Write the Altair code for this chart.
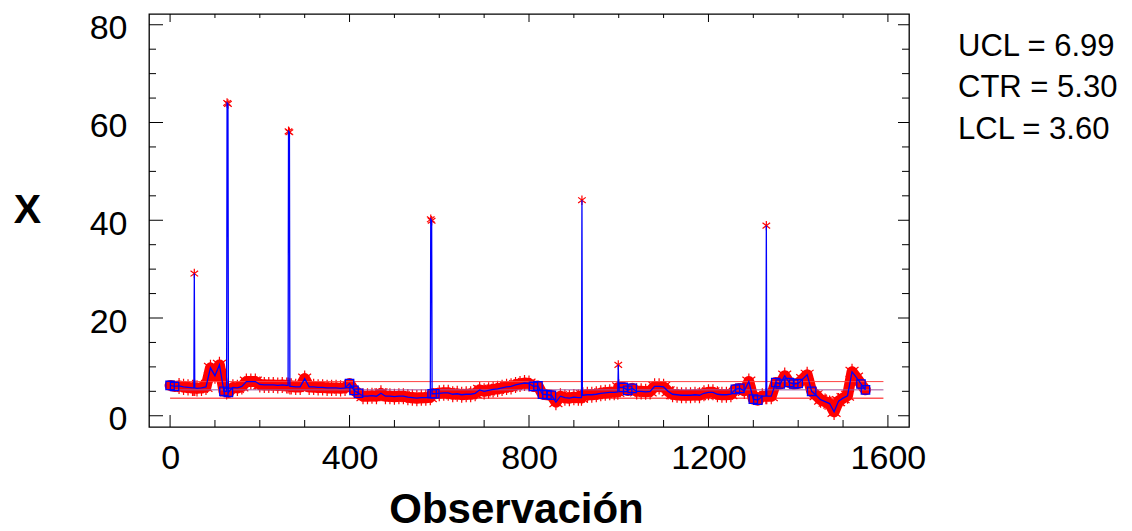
import altair as alt
import pandas as pd

# ---------------- data ----------------
obs_step = 10
base_values = [
    6.2, 6.0, 6.1, 5.9, 5.8, 5.7, 5.6, 5.7, 5.9, 9.8,
    8.2, 10.4, 5.0, 4.8, 5.8, 5.7, 6.0, 7.0, 7.0, 7.0,
    6.4, 6.3, 6.3, 6.3, 6.2, 6.3, 6.2, 6.0, 5.9, 5.9,
    7.6, 5.9, 5.9, 5.8, 5.8, 5.7, 5.7, 5.7, 5.6, 5.7,
    6.6, 5.2, 4.6, 4.0, 4.0, 4.1, 4.0, 4.6, 4.0, 4.0,
    3.9, 4.0, 4.0, 3.8, 3.7, 3.6, 3.7, 3.7, 3.8, 4.5,
    4.6, 4.7, 4.7, 4.4, 4.5, 4.3, 4.4, 4.4, 4.6, 5.3,
    5.0, 5.2, 5.4, 5.5, 5.7, 5.9, 6.0, 6.3, 6.5, 6.7,
    6.6, 6.0, 6.1, 4.4, 4.3, 4.2, 2.8, 4.0, 3.7, 3.6,
    3.8, 3.7, 4.2, 4.3, 4.3, 4.4, 4.6, 4.7, 4.8, 4.8,
    5.8, 5.8, 5.2, 5.6, 5.0, 5.0, 4.9, 5.0, 6.0, 6.0,
    5.9, 5.0, 4.4, 4.3, 4.2, 4.2, 4.2, 4.3, 4.2, 4.6,
    4.8, 4.8, 4.4, 4.3, 4.3, 4.4, 5.4, 5.6, 5.1, 7.0,
    3.4, 3.2, 4.0, 4.0, 4.0, 6.8, 6.5, 8.2, 6.8, 6.5,
    6.6, 7.5, 8.4, 5.0, 4.2, 3.3, 2.9, 2.5, 0.8, 3.0,
    3.6, 4.1, 9.0, 7.8, 6.5, 5.3,
]
extra_obs = [53, 54, 55, 126, 127, 129, 263, 264, 266, 267,
             581, 583, 584, 917, 918, 919, 998, 999, 1328, 1329]
extra_vals = [5.7, 29.1, 5.7, 5.0, 64.0, 63.8, 6.2, 58.2, 58.0, 6.0,
              40.2, 39.9, 4.5, 3.7, 44.1, 4.2, 4.9, 10.4, 4.0, 38.9]
spike_obs = [54, 127, 129, 264, 266, 581, 583, 918, 999, 1329]
square_obs = [0, 10, 120, 130, 400, 410, 420, 584, 590, 810, 820, 830, 840,
              850, 1010, 1020, 1030, 1260, 1270, 1300, 1310, 1350, 1360,
              1380, 1390, 1400, 1430, 1540, 1550]

limit_names = ["UCL", "CTR", "LCL"]
limit_values = [6.99, 5.30, 3.60]
limit_colors = ["#ff4040", "#a0509a", "#ff0000"]
limit_start = 0
limit_end = 1590

x_major = [0, 400, 800, 1200, 1600]
x_minor = [100, 200, 300, 500, 600, 700, 900, 1000, 1100, 1300, 1400, 1500]
y_major = [0, 20, 40, 60, 80]
y_minor = [5, 10, 15, 25, 30, 35, 45, 50, 55, 65, 70, 75]

# ---------------- tables ----------------
obs = list(range(0, obs_step * len(base_values), obs_step)) + extra_obs
vals = base_values + extra_vals
df = pd.DataFrame({"obs": obs, "x": vals}).sort_values("obs").reset_index(drop=True)
df["kind"] = ["square" if o in square_obs else "star" for o in df["obs"]]
df["inband"] = [o not in spike_obs for o in df["obs"]]

lim_df = pd.DataFrame({"name": limit_names, "value": limit_values,
                       "start": limit_start, "end": limit_end})

W, H = 760, 413
FONT = "Liberation Sans"
xs = alt.Scale(domain=[-47, 1647], nice=False, zero=False)
ys = alt.Scale(domain=[-2.3, 82.2], nice=False, zero=False)

x_axis = alt.Axis(
    values=x_major, format="d", title="Observación", ticks=False, domain=False,
    grid=False, labelFontSize=34, labelFont=FONT, labelColor="black",
    labelPadding=14, labelFlush=False, labelOverlap=False,
    titleFontSize=42, titleFont=FONT, titleFontWeight="bold", titleColor="black",
    titleX=367, titleY=95, titleBaseline="alphabetic", titleAlign="center")
y_axis = alt.Axis(
    values=y_major, format="d", title="X", ticks=False, domain=False, grid=False,
    labelFontSize=34, labelFont=FONT, labelColor="black", labelPadding=22,
    labelOffset=4, labelFlush=False, labelOverlap=False,
    titleFontSize=41, titleFont=FONT, titleFontWeight="bold", titleColor="black",
    titleAngle=0, titleX=-122, titleY=196, titleAlign="center",
    titleBaseline="middle")


def X(field):
    return alt.X(field, scale=xs, axis=x_axis)


def Y(field):
    return alt.Y(field, scale=ys, axis=y_axis)


star_path = "M0,-1L0,1M-0.8,-0.6L0.8,0.6M-0.8,0.6L0.8,-0.6"

base = alt.Chart(df)
# dense cloud of asterisks: drawn as a broad red stroke under the individual marks
band = base.transform_filter(alt.datum.inband).mark_line(
    color="#ff0000", strokeWidth=11, strokeJoin="round", strokeCap="round").encode(
    x=X("obs:Q"), y=Y("x:Q"), order="obs:Q")
stars = base.transform_filter(alt.datum.kind == "star").mark_point(
    shape=star_path, filled=False, color="#ff0000", strokeWidth=1.2,
    opacity=1).encode(
    x=X("obs:Q"), y=Y("x:Q"),
    size=alt.condition(alt.datum.inband, alt.value(260), alt.value(90)))
line = base.mark_line(color="#0000ff", strokeWidth=1.3).encode(
    x=X("obs:Q"), y=Y("x:Q"), order="obs:Q")
squares = base.transform_filter(alt.datum.kind == "square").mark_point(
    shape="square", size=70, filled=False, color="#0000ff", strokeWidth=1.3,
    opacity=1).encode(x=X("obs:Q"), y=Y("x:Q"))

limits = alt.Chart(lim_df).mark_rule(strokeWidth=1).encode(
    x=X("start:Q"), x2="end:Q", y=Y("value:Q"),
    color=alt.Color("name:N", scale=alt.Scale(domain=limit_names, range=limit_colors),
                    legend=None))


def xticks(values, length, side):
    d = pd.DataFrame({"v": values})
    if side == "bottom":
        yv, y2v = H, H - length
    else:
        yv, y2v = 0, length
    return alt.Chart(d).mark_rule(color="black", strokeWidth=1).encode(
        x=X("v:Q"), y=alt.value(yv), y2=alt.value(y2v))


def yticks(values, length, side):
    d = pd.DataFrame({"v": values})
    if side == "left":
        xv, x2v = 0, length
    else:
        xv, x2v = W, W - length
    return alt.Chart(d).mark_rule(color="black", strokeWidth=1).encode(
        y=Y("v:Q"), x=alt.value(xv), x2=alt.value(x2v))


tick_layers = [
    xticks(x_major, 12, "bottom"), xticks(x_minor, 7, "bottom"),
    xticks(x_major, 8, "top"), xticks(x_minor, 4, "top"),
    yticks(y_major, 14, "left"), yticks(y_minor, 7, "left"),
    yticks(y_major, 11, "right"), yticks(y_minor, 7, "right"),
]

texts = []
for name, val, ypix in zip(limit_names, limit_values, [33, 74, 116]):
    texts.append(alt.Chart(pd.DataFrame({"t": [f"{name} = {val:.2f}"]})).mark_text(
        align="left", baseline="middle", fontSize=31, font=FONT, color="black"
    ).encode(text="t:N", x=alt.value(809), y=alt.value(ypix)))

chart = alt.layer(band, stars, limits, line, squares, *tick_layers, *texts).properties(
    width=W, height=H,
    padding={"left": 149, "top": 14, "right": 223, "bottom": 104},
    autosize=alt.AutoSizeParams(type="none"),
    background="white",
).configure_view(stroke="black", strokeWidth=1.3)

chart.save("out.html", embed_options={"renderer": "svg", "actions": False})
